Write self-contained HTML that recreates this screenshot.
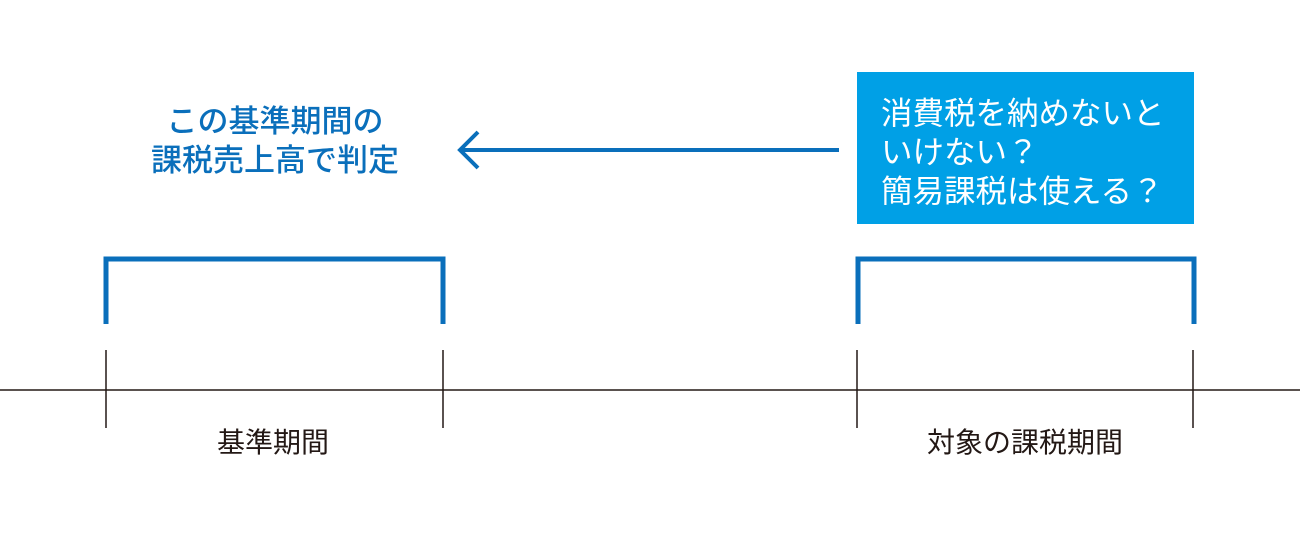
<!DOCTYPE html>
<html><head><meta charset="utf-8"><style>
body{margin:0;width:1300px;height:541px;background:#fff;position:relative;overflow:hidden;font-family:"Liberation Sans","Noto Sans CJK JP",sans-serif}
.t{position:absolute;white-space:nowrap}
</style></head><body>
<svg width="1300" height="541" style="position:absolute;left:0;top:0">
<rect x="857" y="72" width="337" height="152" fill="#00a0e6"/>
<path d="M106 324V259H443V324" fill="none" stroke="#0a6fbb" stroke-width="5"/>
<path d="M858 324V259H1194V324" fill="none" stroke="#0a6fbb" stroke-width="5"/>
<line x1="0" y1="390" x2="1300" y2="390" stroke="#231815" stroke-width="1.5"/>
<g stroke="#231815" stroke-width="1.5">
<line x1="106" y1="350" x2="106" y2="428"/><line x1="443" y1="350" x2="443" y2="428"/>
<line x1="857" y1="350" x2="857" y2="428"/><line x1="1193" y1="350" x2="1193" y2="428"/>
</g>
<line x1="462" y1="150" x2="839" y2="150" stroke="#0a6fbb" stroke-width="4"/>
<path d="M478 132L460 150L478 168" fill="none" stroke="#0a6fbb" stroke-width="4"/>
</svg>
<div class="t" style="left:100px;top:102px;width:350px;text-align:center;font-size:31px;line-height:39px;color:#0a6fbb;font-weight:500">この基準期間の<br>課税売上高で判定</div>
<div class="t" style="left:881px;top:94px;font-size:31.5px;line-height:39px;color:#fff">消費税を納めないと<br>いけない？<br>簡易課税は使える？</div>
<div class="t" style="left:173px;top:421px;width:200px;text-align:center;font-size:28px;color:#231815">基準期間</div>
<div class="t" style="left:875px;top:421px;width:300px;text-align:center;font-size:28px;color:#231815">対象の課税期間</div>
</body></html>
